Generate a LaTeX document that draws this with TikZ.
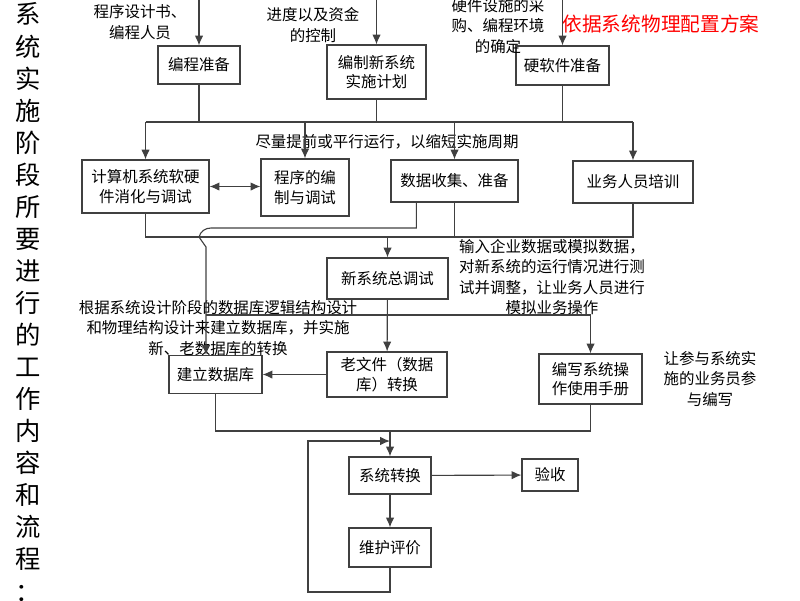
\documentclass[tikz,border=0pt]{standalone}
\usepackage{fontspec}
\setmainfont{Noto Sans CJK SC}
\usepackage{tikz}
\usetikzlibrary{arrows.meta}
\definecolor{linegray}{HTML}{404040}
\tikzset{
  box/.style 2 args={draw=linegray,line width=0.8pt,align=center,inner sep=1pt,
    minimum width=#1cm,minimum height=#2cm,font=\fontsize{11}{14}\selectfont},
  note/.style={align=center,inner sep=0pt,font=\fontsize{11}{14.5}\selectfont},
  wire/.style={draw=linegray,line width=0.8pt}
}

\begin{document}
\begin{tikzpicture}[x=0.025cm,y=-0.025cm,>={Latex[length=7pt,width=6pt]}]
\useasboundingbox (0,0) rectangle (800,600);
\node[align=center,inner sep=0pt,font=\fontsize{18}{22.8}\selectfont] (title) at (28,302)
  {系\\统\\实\\施\\阶\\段\\所\\要\\进\\行\\的\\工\\作\\内\\容\\和\\流\\程\\：};

\node[box={2.05}{0.95}] (prep) at (199,65) {编程准备};
\node[box={2.475}{1.35}] (plan) at (376.5,72) {编制新系统\\实施计划};
\node[box={2.325}{0.975}] (hw) at (562.5,65.5) {硬软件准备};
\node[box={3.175}{1.325}] (digest) at (145.5,186.5) {计算机系统软硬\\件消化与调试};
\node[box={2.2}{1.425}] (code) at (305,187.5) {程序的编\\制与调试};
\node[box={3.175}{1.05}] (data) at (454.5,181) {数据收集、准备};
\node[box={3.0}{1.05}] (train) at (633,182) {业务人员培训};
\node[box={3.025}{1.025}] (test) at (387.5,278.5) {新系统总调试};
\node[box={3.0}{1.125}] (old) at (387,374.5) {老文件（数据\\库）转换};
\node[box={2.325}{0.95}] (db) at (215.5,374.5) {建立数据库};
\node[box={2.575}{1.25}] (manual) at (590.5,379) {编写系统操\\作使用手册};
\node[box={2.05}{0.925}] (switch) at (390,475.5) {系统转换};
\node[box={1.4}{0.8}] (accept) at (550,475) {验收};
\node[box={2.05}{0.975}] (maint) at (390,547.5) {维护评价};

\node[note] (n1) at (140,22) {程序设计书、\\编程人员};
\node[note] (n2) at (313,25) {进度以及资金\\的控制};
\node[note] (n3) at (498,26) {硬件设施的采\\购、编程环境\\的确定};
\node[inner sep=0pt,text=red,font=\fontsize{14}{16}\selectfont] (rule) at (661,24) {依据系统物理配置方案};
\node[note] (n4) at (387,142) {尽量提前或平行运行，以缩短实施周期};
\node[note] (n5) at (218,328) {根据系统设计阶段的数据库逻辑结构设计\\和物理结构设计来建立数据库，并实施\\新、老数据库的转换};
\node[note] (n6) at (552,277) {输入企业数据或模拟数据，\\对新系统的运行情况进行测\\试并调整，让业务人员进行\\模拟业务操作};
\node[note] (n7) at (710,379) {让参与系统实\\施的业务员参\\与编写};

\coordinate (in1) at (199,0);
\coordinate (in2) at (376.5,0);
\coordinate (in3) at (562.5,0);
\draw[wire,->] (in1) -- (prep);
\draw[wire,->] (in2) -- (plan);
\draw[wire,->] (in3) -- (hw);

\coordinate (busL) at (145.5,122);
\coordinate (busR) at (633,122);
\draw[wire] (busL) -- (busR);
\draw[wire] (prep) -- (prep |- busL);
\draw[wire] (plan) -- (plan |- busL);
\draw[wire] (hw) -- (hw |- busL);
\draw[wire,->] (busL) -- (digest);
\draw[wire,->] (code |- busL) -- (code);
\draw[wire,->] (data |- busL) -- (data);
\draw[wire,->] (busR) -- (train);
\draw[wire,<->] (digest.east) -- (code.west |- digest.east);

\coordinate (midR) at (633,237);
\draw[wire] (digest) |- (midR) -- (train);
\draw[wire] (data) -- (data |- midR);
\draw[wire,->] (test |- midR) -- (test);
\coordinate (hop) at (206,247);
\draw[wire,->] ([xshift=0.65cm]data.south west) |- (211,228) to[out=180,in=75] (199,237) -- (hop) -- (hop |- db.north);

\draw[wire,->] (test) -- (old);
\draw[wire,->] (old) -- (db);
\coordinate (br) at (206,315);
\draw[wire,->] (br) -| (manual);
\coordinate (low) at (590.5,431);
\draw[wire] (db) |- (low) -- (manual);
\draw[wire,->] (switch |- low) -- (switch);
\draw[wire,->] (switch) -- (accept);
\draw[wire,->] (switch) -- (maint);
\coordinate (loopB) at (308,592);
\coordinate (loopT) at (308,441);
\draw[wire,->] (maint) |- (loopB) -- (loopT) -- (loopT -| switch);
\end{tikzpicture}
\end{document}
